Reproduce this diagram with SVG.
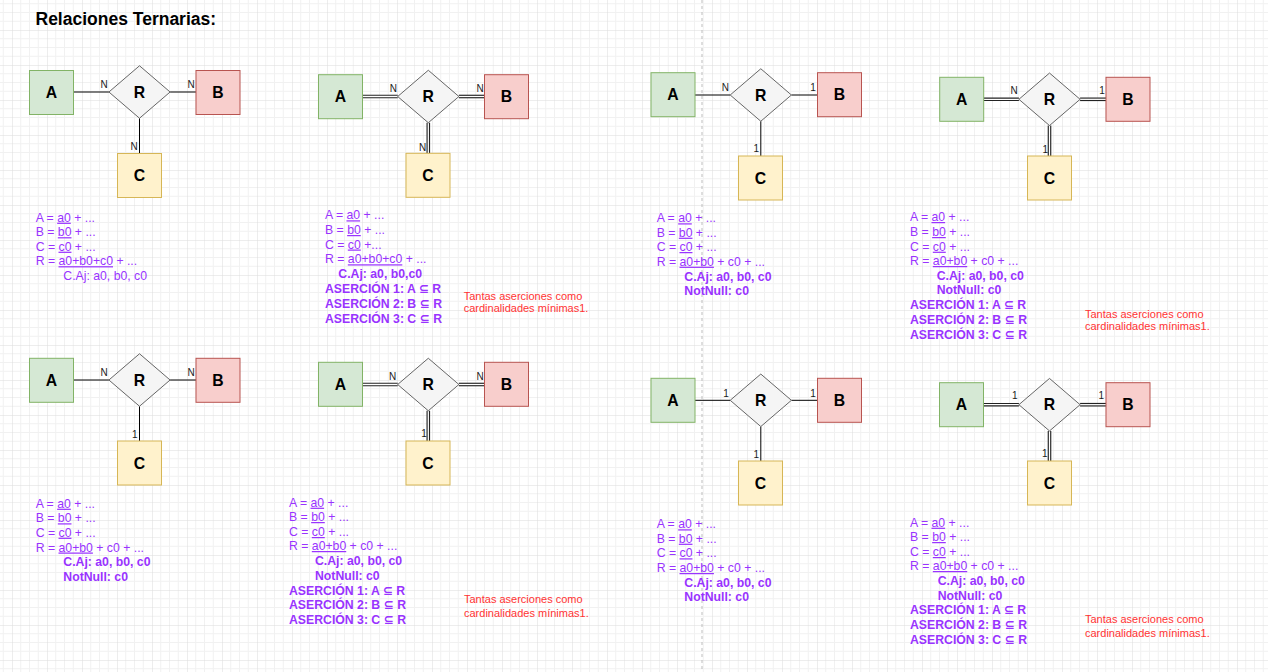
<svg xmlns="http://www.w3.org/2000/svg" xmlns:xlink="http://www.w3.org/1999/xlink" width="1268" height="672" viewBox="0 0 1268 672">
<style>
.ea{fill:#d5e8d4;stroke:#82b366;stroke-width:1}
.eb{fill:#f8cecc;stroke:#b85450;stroke-width:1}
.ec{fill:#fff2cc;stroke:#d6b656;stroke-width:1}
.rel{fill:#f5f5f5;stroke:#666666;stroke-width:1}
.lbl{font-family:"Liberation Sans",Arial,sans-serif;font-weight:bold;font-size:15.75px;text-anchor:middle;fill:#000}
.card{font-family:"Liberation Sans",Arial,sans-serif;font-size:10px;text-anchor:middle;fill:#1a1a1a}
.ln{stroke:#000;stroke-width:1;fill:none}
.dbo{stroke:#222;stroke-width:3.6;fill:none}
.dbi{stroke:#fff;stroke-width:1.3;fill:none}
.pt{font-family:"Liberation Sans",Arial,"DejaVu Sans",sans-serif;font-size:12.25px;fill:#9933ff}
.b{font-weight:bold}
.u{text-decoration:underline}
.red{font-family:"Liberation Sans",Arial,sans-serif;font-size:11px;fill:#ff3333}
.title{font-family:"Liberation Sans",Arial,sans-serif;font-weight:bold;font-size:17.5px;fill:#000}
.gmin{stroke:#f1f1f1;stroke-width:1}
.gmaj{stroke:#dcdcdc;stroke-width:1}
</style>
<defs>
<pattern id="grid" patternUnits="userSpaceOnUse" x="12" y="30" width="35" height="35">
<path class="gmin" d="M8.75,0V35M17.5,0V35M26.25,0V35M0,8.75H35M0,17.5H35M0,26.25H35"/>
<path class="gmaj" d="M0,0V35M0,0H35"/>
</pattern>
<path id="p2a" d="M362.5,96.5H397.7"/>
<path id="p2b" d="M458.9,96.5H484.5"/>
<path id="p2c" d="M428.3,122.75V153.3"/>
<path id="p4a" d="M983.7,99.3H1018.9"/>
<path id="p4b" d="M1080.1,99.3H1106"/>
<path id="p4c" d="M1049.5,125.55V156"/>
<path id="p6a" d="M362.5,384.5H397.7"/>
<path id="p6b" d="M458.9,384.5H484.5"/>
<path id="p6c" d="M428.3,410.75V441"/>
<path id="p8a" d="M983.5,404.7H1018.9"/>
<path id="p8b" d="M1080.1,404.7H1106"/>
<path id="p8c" d="M1049.5,430.95V461"/>
</defs>
<rect width="1268" height="672" fill="#ffffff"/>
<rect width="1268" height="672" fill="url(#grid)"/>
<line x1="702" y1="0" x2="702" y2="672" stroke="#bdbdbd" stroke-width="1" stroke-dasharray="3 3"/>
<text class="title" x="35.5" y="25">Relaciones Ternarias:</text>

<g id="connectors">
<path class="ln" d="M73.5,92H108.9M170.1,92H196M139.5,118.25V153.5"/>
<path class="ln" d="M695,95H730.2M791.4,95H817.5M760.8,121.25V156"/>
<path class="ln" d="M73.5,380H108.9M170.1,380H196M139.5,406.25V441"/>
<path class="ln" d="M695,400.3H730.2M791.4,400.3H817.5M760.8,426.55V461"/>
<use xlink:href="#p2a" class="dbo"/><use xlink:href="#p2a" class="dbi"/>
<use xlink:href="#p2b" class="dbo"/><use xlink:href="#p2b" class="dbi"/>
<use xlink:href="#p2c" class="dbo"/><use xlink:href="#p2c" class="dbi"/>
<use xlink:href="#p4a" class="dbo"/><use xlink:href="#p4a" class="dbi"/>
<use xlink:href="#p4b" class="dbo"/><use xlink:href="#p4b" class="dbi"/>
<use xlink:href="#p4c" class="dbo"/><use xlink:href="#p4c" class="dbi"/>
<use xlink:href="#p6a" class="dbo"/><use xlink:href="#p6a" class="dbi"/>
<use xlink:href="#p6b" class="dbo"/><use xlink:href="#p6b" class="dbi"/>
<use xlink:href="#p6c" class="dbo"/><use xlink:href="#p6c" class="dbi"/>
<use xlink:href="#p8a" class="dbo"/><use xlink:href="#p8a" class="dbi"/>
<use xlink:href="#p8b" class="dbo"/><use xlink:href="#p8b" class="dbi"/>
<use xlink:href="#p8c" class="dbo"/><use xlink:href="#p8c" class="dbi"/>
<text class="card" x="104" y="87.5">N</text><text class="card" x="191" y="87.5">N</text><text class="card" x="134" y="150">N</text>
<text class="card" x="393.3" y="91.7">N</text><text class="card" x="480" y="91.7">N</text><text class="card" x="422.7" y="151">N</text>
<text class="card" x="725.3" y="90.7">N</text><text class="card" x="813" y="90.7">1</text><text class="card" x="756.3" y="152.3">1</text>
<text class="card" x="1014" y="94.3">N</text><text class="card" x="1102" y="94.3">1</text><text class="card" x="1045.3" y="153.3">1</text>
<text class="card" x="104" y="376">N</text><text class="card" x="191" y="376">N</text><text class="card" x="134.7" y="437.7">1</text>
<text class="card" x="392.7" y="380">N</text><text class="card" x="480" y="380">N</text><text class="card" x="424" y="437.3">1</text>
<text class="card" x="726" y="396.7">1</text><text class="card" x="813" y="396.7">1</text><text class="card" x="756.3" y="457.7">1</text>
<text class="card" x="1014.7" y="399.3">1</text><text class="card" x="1101.3" y="399.3">1</text><text class="card" x="1044.7" y="457.3">1</text>
</g>

<!-- Panel 1 -->
<g id="A1"><rect class="ea" x="29.5" y="70.5" width="44" height="44"/><text class="lbl" x="51.5" y="98.1">A</text></g>
<g id="R1"><polygon class="rel" points="108.9,92 139.5,65.75 170.1,92 139.5,118.25"/><text class="lbl" x="139.5" y="97.6">R</text></g>
<g id="B1"><rect class="eb" x="196" y="70.5" width="44" height="44"/><text class="lbl" x="218" y="98.1">B</text></g>
<g id="C1"><rect class="ec" x="117.5" y="153.5" width="44" height="44"/><text class="lbl" x="139.5" y="181.1">C</text></g>
<g id="T1" class="pt">
<text x="35.7" y="221.7">A = <tspan class="u">a0</tspan> + ...</text>
<text x="35.7" y="236.2">B = <tspan class="u">b0</tspan> + ...</text>
<text x="35.7" y="250.7">C = <tspan class="u">c0</tspan> + ...</text>
<text x="35.7" y="265.2">R = <tspan class="u">a0+b0+c0</tspan> + ...</text>
<text x="63.3" y="279.7">C.Aj: a0, b0, c0</text>
</g>

<!-- Panel 2 -->
<g id="A2"><rect class="ea" x="318.5" y="74.7" width="44" height="44"/><text class="lbl" x="340.5" y="102.3">A</text></g>
<g id="R2"><polygon class="rel" points="397.7,96.5 428.3,70.25 458.9,96.5 428.3,122.75"/><text class="lbl" x="428.3" y="102.1">R</text></g>
<g id="B2"><rect class="eb" x="484.5" y="74.7" width="44" height="44"/><text class="lbl" x="506.5" y="102.3">B</text></g>
<g id="C2"><rect class="ec" x="406" y="153.3" width="44" height="44"/><text class="lbl" x="428" y="180.9">C</text></g>
<g id="T2" class="pt">
<text x="325" y="219.3">A = <tspan class="u">a0</tspan> + ...</text>
<text x="325" y="234">B = <tspan class="u">b0</tspan> + ...</text>
<text x="325" y="248.5">C = <tspan class="u">c0</tspan> +...</text>
<text x="325" y="263.3">R = <tspan class="u">a0+b0+c0</tspan> + ...</text>
<text x="338.3" y="277.5" class="b">C.Aj: a0, b0,c0</text>
<text x="325" y="293.3" class="b">ASERCIÓN 1: A ⊆ R</text>
<text x="325" y="308.3" class="b">ASERCIÓN 2: B ⊆ R</text>
<text x="325" y="322.8" class="b">ASERCIÓN 3: C ⊆ R</text>
</g>
<g id="N2" class="red"><text x="463.7" y="300">Tantas aserciones como</text><text x="463.7" y="312.3">cardinalidades mínimas1.</text></g>

<!-- Panel 3 -->
<g id="A3"><rect class="ea" x="651" y="72.7" width="44" height="44"/><text class="lbl" x="673" y="100.3">A</text></g>
<g id="R3"><polygon class="rel" points="730.2,95 760.8,68.75 791.4,95 760.8,121.25"/><text class="lbl" x="760.8" y="100.6">R</text></g>
<g id="B3"><rect class="eb" x="817.5" y="72.7" width="44" height="44"/><text class="lbl" x="839.5" y="100.3">B</text></g>
<g id="C3"><rect class="ec" x="738.5" y="156" width="44" height="44"/><text class="lbl" x="760.5" y="183.6">C</text></g>
<g id="T3" class="pt">
<text x="656.7" y="222.3">A = <tspan class="u">a0</tspan> + ...</text>
<text x="656.7" y="236.7">B = <tspan class="u">b0</tspan> + ...</text>
<text x="656.7" y="251">C = <tspan class="u">c0</tspan> + ...</text>
<text x="656.7" y="265.7">R = <tspan class="u">a0+b0</tspan> + c0 + ...</text>
<text x="684.3" y="280.7" class="b">C.Aj: a0, b0, c0</text>
<text x="684.3" y="295" class="b">NotNull: c0</text>
</g>

<!-- Panel 4 -->
<g id="A4"><rect class="ea" x="939.7" y="77.3" width="44" height="44"/><text class="lbl" x="961.7" y="104.9">A</text></g>
<g id="R4"><polygon class="rel" points="1018.9,99.3 1049.5,73.05 1080.1,99.3 1049.5,125.55"/><text class="lbl" x="1049.5" y="104.9">R</text></g>
<g id="B4"><rect class="eb" x="1106" y="77.3" width="44" height="44"/><text class="lbl" x="1128" y="104.9">B</text></g>
<g id="C4"><rect class="ec" x="1027.5" y="156" width="44" height="44"/><text class="lbl" x="1049.5" y="183.6">C</text></g>
<g id="T4" class="pt">
<text x="910" y="221">A = <tspan class="u">a0</tspan> + ...</text>
<text x="910" y="236">B = <tspan class="u">b0</tspan> + ...</text>
<text x="910" y="250.7">C = <tspan class="u">c0</tspan> + ...</text>
<text x="910" y="265">R = <tspan class="u">a0+b0</tspan> + c0 + ...</text>
<text x="936.7" y="280" class="b">C.Aj: a0, b0, c0</text>
<text x="936.7" y="294.3" class="b">NotNull: c0</text>
<text x="910" y="309.3" class="b">ASERCIÓN 1: A ⊆ R</text>
<text x="910" y="324.3" class="b">ASERCIÓN 2: B ⊆ R</text>
<text x="910" y="339.3" class="b">ASERCIÓN 3: C ⊆ R</text>
</g>
<g id="N4" class="red"><text x="1085" y="318.3">Tantas aserciones como</text><text x="1085" y="330">cardinalidades mínimas1.</text></g>

<!-- Panel 5 -->
<g id="A5"><rect class="ea" x="29.5" y="358.3" width="44" height="44"/><text class="lbl" x="51.5" y="385.9">A</text></g>
<g id="R5"><polygon class="rel" points="108.9,380 139.5,353.75 170.1,380 139.5,406.25"/><text class="lbl" x="139.5" y="385.6">R</text></g>
<g id="B5"><rect class="eb" x="196" y="358.3" width="44" height="44"/><text class="lbl" x="218" y="385.9">B</text></g>
<g id="C5"><rect class="ec" x="117.5" y="441" width="44" height="44"/><text class="lbl" x="139.5" y="468.6">C</text></g>
<g id="T5" class="pt">
<text x="35.7" y="507.7">A = <tspan class="u">a0</tspan> + ...</text>
<text x="35.7" y="522.3">B = <tspan class="u">b0</tspan> + ...</text>
<text x="35.7" y="536.7">C = <tspan class="u">c0</tspan> + ...</text>
<text x="35.7" y="551.5">R = <tspan class="u">a0+b0</tspan> + c0 + ...</text>
<text x="63.3" y="566" class="b">C.Aj: a0, b0, c0</text>
<text x="63.3" y="580.7" class="b">NotNull: c0</text>
</g>

<!-- Panel 6 -->
<g id="A6"><rect class="ea" x="318.5" y="362.3" width="44" height="44"/><text class="lbl" x="340.5" y="389.9">A</text></g>
<g id="R6"><polygon class="rel" points="397.7,384.5 428.3,358.25 458.9,384.5 428.3,410.75"/><text class="lbl" x="428.3" y="390.1">R</text></g>
<g id="B6"><rect class="eb" x="484.5" y="362.3" width="44" height="44"/><text class="lbl" x="506.5" y="389.9">B</text></g>
<g id="C6"><rect class="ec" x="406" y="441" width="44" height="44"/><text class="lbl" x="428" y="468.6">C</text></g>
<g id="T6" class="pt">
<text x="289" y="506.7">A = <tspan class="u">a0</tspan> + ...</text>
<text x="289" y="521">B = <tspan class="u">b0</tspan> + ...</text>
<text x="289" y="536">C = <tspan class="u">c0</tspan> + ...</text>
<text x="289" y="550">R = <tspan class="u">a0+b0</tspan> + c0 + ...</text>
<text x="315" y="565" class="b">C.Aj: a0, b0, c0</text>
<text x="315" y="580" class="b">NotNull: c0</text>
<text x="289" y="594.5" class="b">ASERCIÓN 1: A ⊆ R</text>
<text x="289" y="609.3" class="b">ASERCIÓN 2: B ⊆ R</text>
<text x="289" y="624.3" class="b">ASERCIÓN 3: C ⊆ R</text>
</g>
<g id="N6" class="red"><text x="464" y="603.3">Tantas aserciones como</text><text x="464" y="616.7">cardinalidades mínimas1.</text></g>

<!-- Panel 7 -->
<g id="A7"><rect class="ea" x="651" y="378.3" width="44" height="44"/><text class="lbl" x="673" y="405.9">A</text></g>
<g id="R7"><polygon class="rel" points="730.2,400.3 760.8,374.05 791.4,400.3 760.8,426.55"/><text class="lbl" x="760.8" y="405.9">R</text></g>
<g id="B7"><rect class="eb" x="817.5" y="378.3" width="44" height="44"/><text class="lbl" x="839.5" y="405.9">B</text></g>
<g id="C7"><rect class="ec" x="738.5" y="461" width="44" height="44"/><text class="lbl" x="760.5" y="488.6">C</text></g>
<g id="T7" class="pt">
<text x="656.7" y="528.3">A = <tspan class="u">a0</tspan> + ...</text>
<text x="656.7" y="542.7">B = <tspan class="u">b0</tspan> + ...</text>
<text x="656.7" y="557.3">C = <tspan class="u">c0</tspan> + ...</text>
<text x="656.7" y="572">R = <tspan class="u">a0+b0</tspan> + c0 + ...</text>
<text x="684.3" y="586.7" class="b">C.Aj: a0, b0, c0</text>
<text x="684.3" y="600.7" class="b">NotNull: c0</text>
</g>

<!-- Panel 8 -->
<g id="A8"><rect class="ea" x="939.5" y="382.7" width="44" height="44"/><text class="lbl" x="961.5" y="410.3">A</text></g>
<g id="R8"><polygon class="rel" points="1018.9,404.7 1049.5,378.45 1080.1,404.7 1049.5,430.95"/><text class="lbl" x="1049.5" y="410.3">R</text></g>
<g id="B8"><rect class="eb" x="1106" y="382.7" width="44" height="44"/><text class="lbl" x="1128" y="410.3">B</text></g>
<g id="C8"><rect class="ec" x="1027.5" y="461" width="44" height="44"/><text class="lbl" x="1049.5" y="488.6">C</text></g>
<g id="T8" class="pt">
<text x="910" y="526.7">A = <tspan class="u">a0</tspan> + ...</text>
<text x="910" y="541">B = <tspan class="u">b0</tspan> + ...</text>
<text x="910" y="556">C = <tspan class="u">c0</tspan> + ...</text>
<text x="910" y="570">R = <tspan class="u">a0+b0</tspan> + c0 + ...</text>
<text x="937.7" y="585" class="b">C.Aj: a0, b0, c0</text>
<text x="937.7" y="600" class="b">NotNull: c0</text>
<text x="910" y="614.3" class="b">ASERCIÓN 1: A ⊆ R</text>
<text x="910" y="629.3" class="b">ASERCIÓN 2: B ⊆ R</text>
<text x="910" y="644.3" class="b">ASERCIÓN 3: C ⊆ R</text>
</g>
<g id="N8" class="red"><text x="1085" y="623.3">Tantas aserciones como</text><text x="1085" y="636.7">cardinalidades mínimas1.</text></g>
</svg>
